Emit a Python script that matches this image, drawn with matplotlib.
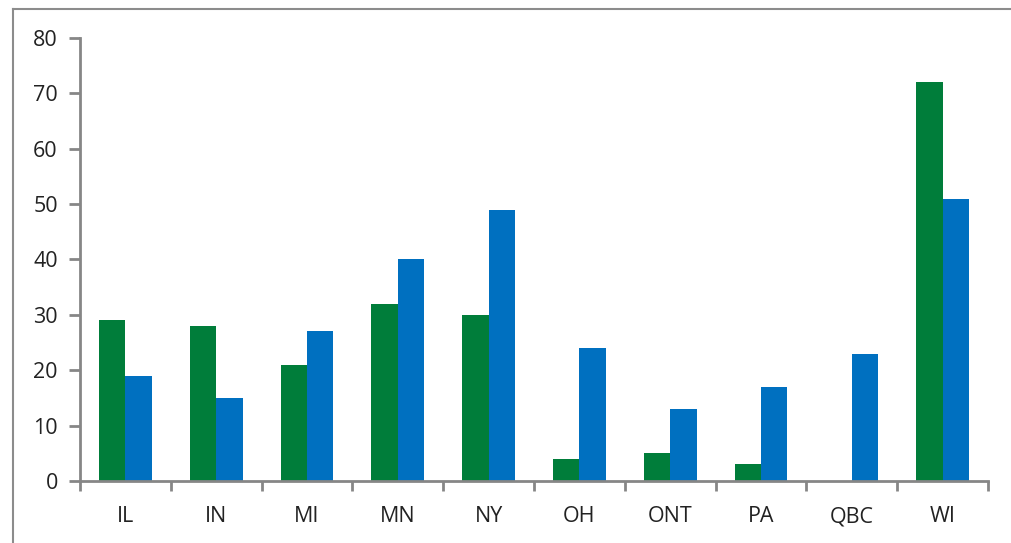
import matplotlib.pyplot as plt
import numpy as np
from matplotlib.lines import Line2D

states = ['IL', 'IN', 'MI', 'MN', 'NY', 'OH', 'ONT', 'PA', 'QBC', 'WI']
green_vals = [29, 28, 21, 32, 30, 4, 5, 3, 0, 72]
blue_vals = [19, 15, 27, 40, 49, 24, 13, 17, 23, 51]

plt.rcParams['font.family'] = ['Open Sans', 'DejaVu Sans']

fig = plt.figure(figsize=(10.12, 5.43), dpi=100)
ax = fig.add_axes([80 / 1012, 1 - 481 / 543, 908 / 1012, 443 / 543])

x = np.arange(len(states))
w = 0.29
ax.bar(x - w / 2, green_vals, width=w, color='#007D3A')
ax.bar(x + w / 2, blue_vals, width=w, color='#0070C0')

ax.set_xlim(-0.5, len(states) - 0.5)
ax.set_ylim(0, 80)
ax.set_yticks(range(0, 81, 10))

# category labels centered, tick marks between categories
ax.set_xticks(x)
ax.set_xticklabels(states, fontsize=15.5, color='#222222')
ax.tick_params(axis='x', length=0, pad=18)
ax.set_xticks(np.arange(-0.5, len(states)), minor=True)
ax.tick_params(axis='x', which='minor', length=7, width=2, color='#868686')
ax.tick_params(axis='y', length=8, width=2, color='#868686', labelsize=15.5,
               labelcolor='#222222', pad=8)

for s in ['top', 'right']:
    ax.spines[s].set_visible(False)
for s in ['left', 'bottom']:
    ax.spines[s].set_color('#868686')
    ax.spines[s].set_linewidth(2)

# outer chart border (top and left visible in the crop)
fig.add_artist(Line2D([13 / 1012, 13 / 1012], [0, 1 - 9 / 543], transform=fig.transFigure,
                      color='#8c8c8c', lw=1.5))
fig.add_artist(Line2D([13 / 1012, 1], [1 - 9 / 543, 1 - 9 / 543], transform=fig.transFigure,
                      color='#8c8c8c', lw=1.5))

fig.savefig('out.png', dpi=100)
